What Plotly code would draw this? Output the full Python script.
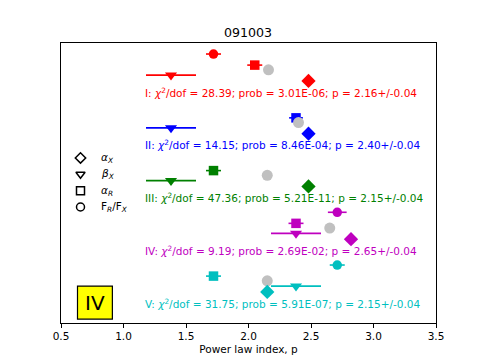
import plotly.graph_objects as go

# ---- data ----
groups = ["I", "II", "III", "IV", "V"]
colors = ["#ff0000", "#0000ff", "#008000", "#bf00bf", "#00bfbf"]
fr_fx = [1.72, None, None, 2.71, 2.71]          # filled circles
fr_fx_err = [0.06, None, None, 0.075, 0.06]
alpha_r = [2.05, 2.38, 1.72, 2.38, 1.72]        # squares
alpha_r_err = [0.06, 0.055, 0.06, 0.06, 0.06]
beta_x = [1.38, 1.38, 1.38, 2.38, 2.38]         # down triangles
beta_x_err = [0.2, 0.2, 0.2, 0.2, 0.2]
alpha_x = [2.48, 2.48, 2.48, 2.82, 2.15]        # diamonds
p_fit = [2.16, 2.40, 2.15, 2.65, 2.15]          # grey circles
p_err = [0.04, 0.04, 0.04, 0.04, 0.04]
chi2 = [28.39, 14.15, 47.36, 9.19, 31.75]
prob = ["3.01E-06", "8.46E-04", "5.21E-11", "2.69E-02", "5.91E-07"]
legend_labels = ["<i>α</i><sub><i>X</i></sub>", "<i>β</i><sub><i>X</i></sub>",
                 "<i>α</i><sub><i>R</i></sub>", "F<sub><i>R</i></sub>/F<sub><i>X</i></sub>"]
legend_symbols = ["diamond-open", "triangle-down-open", "square-open", "circle-open"]
title = "091003"
xlabel = "Power law index, p"
panel = "IV"

# ---- layout helpers (vertical placement of each group) ----
base = [4 - k for k in range(len(groups))]
off = {"circ": 0.72, "sq": 0.51, "grey": 0.42, "tri": 0.32, "dia": 0.21}

fig = go.Figure()
font = "DejaVu Sans, sans-serif"

for k, g in enumerate(groups):
    c = colors[k]
    y0 = base[k]
    fig.add_trace(go.Scatter(x=[beta_x[k]], y=[y0 + off["tri"]], mode="markers",
                             marker=dict(symbol="triangle-down", size=10.5, color=c),
                             error_x=dict(type="data", array=[beta_x_err[k]], color=c,
                                          thickness=1.6, width=0),
                             showlegend=False))
    fig.add_trace(go.Scatter(x=[alpha_r[k]], y=[y0 + off["sq"]], mode="markers",
                             marker=dict(symbol="square", size=9.5, color=c),
                             error_x=dict(type="data", array=[alpha_r_err[k]], color=c,
                                          thickness=1.6, width=0),
                             showlegend=False))
    if fr_fx[k] is not None:
        fig.add_trace(go.Scatter(x=[fr_fx[k]], y=[y0 + off["circ"]], mode="markers",
                                 marker=dict(symbol="circle", size=9.5, color=c),
                                 error_x=dict(type="data", array=[fr_fx_err[k]], color=c,
                                              thickness=1.6, width=0),
                                 showlegend=False))
    fig.add_trace(go.Scatter(x=[p_fit[k]], y=[y0 + off["grey"]], mode="markers",
                             marker=dict(symbol="circle", size=11, color="#c0c0c0"),
                             showlegend=False))
    fig.add_trace(go.Scatter(x=[alpha_x[k]], y=[y0 + off["dia"]], mode="markers",
                             marker=dict(symbol="diamond", size=11, color=c),
                             showlegend=False))
    txt = (f"{g}: <i>χ</i><sup>2</sup>/dof = {chi2[k]:.2f}; prob = {prob[k]}; "
           f"p = {p_fit[k]:.2f}+/-{p_err[k]:.2f}")
    fig.add_annotation(x=1.158, y=y0, xref="x", yref="y", text=txt, showarrow=False,
                       xanchor="left", yanchor="middle",
                       font=dict(family=font, size=10.5, color=c))

leg_y = [2.75 - 0.31 * i for i in range(4)]
fig.add_trace(go.Scatter(x=[0.656] * 4, y=leg_y, mode="markers",
                         marker=dict(symbol=legend_symbols, size=8, color="black",
                                     line=dict(width=1.5, color="black")),
                         showlegend=False))
for lab, yy in zip(legend_labels, leg_y):
    fig.add_annotation(x=0.80, y=yy, xref="x", yref="y", text=lab, showarrow=False,
                       xanchor="left", yanchor="middle",
                       font=dict(family=font, size=10.5, color="black"))

fig.add_shape(type="rect", xref="paper", yref="paper", x0=0.044, x1=0.137, y0=0.014, y1=0.132,
              fillcolor="yellow", line=dict(color="black", width=1.2))
fig.add_annotation(x=0.0905, y=0.073, xref="paper", yref="paper", text=panel, showarrow=False,
                   xanchor="center", yanchor="middle",
                   font=dict(family=font, size=20, color="black"))

W, H = 477, 356
fig.update_layout(
    width=W, height=H,
    margin=dict(l=52.5, r=48.5, t=35, b=41),
    paper_bgcolor="white", plot_bgcolor="white",
    title=dict(text=title, x=240 / W, xanchor="center", y=1 - 25 / H, yanchor="middle",
               font=dict(family=font, size=12.6, color="black")),
    font=dict(family=font, size=10.5, color="black"),
)
fig.update_xaxes(range=[0.5, 3.5], tickvals=[0.5, 1.0, 1.5, 2.0, 2.5, 3.0, 3.5],
                 ticktext=["0.5", "1.0", "1.5", "2.0", "2.5", "3.0", "3.5"],
                 ticks="outside", ticklen=3.5, tickwidth=0.8, tickcolor="black",
                 showline=True, linecolor="black", linewidth=1, mirror=True,
                 showgrid=False, zeroline=False,
                 title=dict(text=xlabel, font=dict(family=font, size=10.5), standoff=4),
                 tickfont=dict(family=font, size=10.5))
fig.update_yaxes(range=[-0.379, 4.929], showticklabels=False, ticks="",
                 showline=True, linecolor="black", linewidth=1, mirror=True,
                 showgrid=False, zeroline=False)

fig.write_html("out.html")
